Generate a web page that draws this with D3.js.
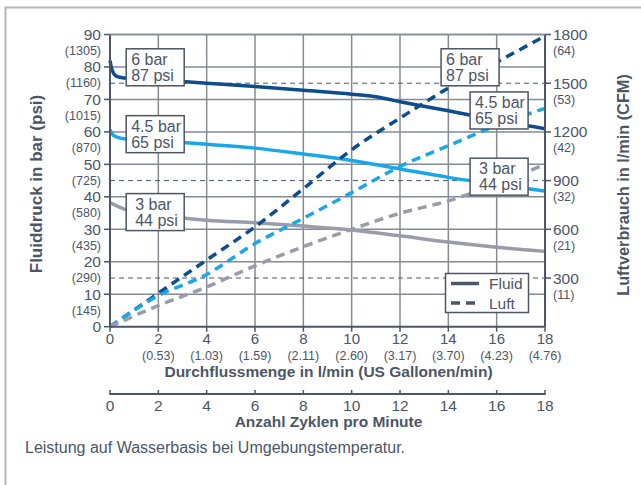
<!DOCTYPE html>
<html><head><meta charset="utf-8">
<script src="https://cdn.jsdelivr.net/npm/d3@7"></script>
<style>
body{margin:0;background:#fff;}
text{font-family:"Liberation Sans",Arial,sans-serif;fill:#4b5666;}
</style></head>
<body><svg id="c" width="641" height="485"></svg>
<script>
// ---- data ----
const flowTicks = [0,2,4,6,8,10,12,14,16,18];
const gallonLabels = ["", "(0.53)","(1.03)","(1.59)","(2.11)","(2.60)","(3.17)","(3.70)","(4.23)","(4.76)"];
const cycleTicks = [0,2,4,6,8,10,12,14,16,18];
const barTicks = [0,10,20,30,40,50,60,70,80,90];
const psiLabels = ["","(145)","(290)","(435)","(580)","(725)","(870)","(1015)","(1160)","(1305)"];
const airTicks = [300,600,900,1200,1500,1800];
const cfmLabels = ["(11)","(21)","(32)","(42)","(53)","(64)"];
const refAirLines = [300,900,1500];

const fluid6X = [0,0.05,0.15,0.3,0.6,2,4,6,8,10,11,12,14,16,18];
const fluid6Y = [82,80,78,77,76.6,76,75,74,72.8,71.6,70.8,69.3,66.5,63.6,61];
const fluid45X = [0,0.1,0.25,0.5,2,4,6,8,10,12,14,16,18];
const fluid45Y = [60.7,59.3,58.5,58,57.3,56.2,55,53.2,51.2,48.6,46,43.8,41.8];
const fluid3X = [0,0.67,2,3,4,6,8,10,12,14,16,18];
const fluid3Y = [38.2,36,34.4,33.5,32.8,32,31,29.8,28,26.1,24.5,23.2];

const luftX = [0,2,4,6,8,10,12,14,16,18];
const luft6 = [0,206,411,615,850,1090,1285,1470,1630,1790];
const luft45 = [0,191,322,512,668,826,987,1115,1240,1345];
const luft3 = [0,130,245,375,493,600,699,775,880,1000];

const seriesNames = ["6 bar\n87 psi","4.5 bar\n65 psi","3 bar\n44 psi"];
const colors = ["#0d4d8c","#1aa7e8","#9a9cab"];
const legendNames = ["Fluid","Luft"];

// ---- layout ----
const svg = d3.select("#c");
const X0=110, X1=545, Y0=326.7, Y1=34.5;
const x = d3.scaleLinear().domain([0,18]).range([X0,X1]);
const y = d3.scaleLinear().domain([0,90]).range([Y0,Y1]);
const yR = d3.scaleLinear().domain([0,1800]).range([Y0,Y1]);
const ink = "#4b5666", grid="#848b95";

// frame
svg.append("path").attr("d","M5.5,485 V7.5 H641").attr("fill","none").attr("stroke","#b2b6be").attr("stroke-width",2);

// grid
const g = svg.append("g");
g.selectAll(".vg").data(flowTicks.slice(1,-1)).join("line")
 .attr("x1",d=>x(d)).attr("x2",d=>x(d)).attr("y1",Y0).attr("y2",Y1)
 .attr("stroke",grid).attr("stroke-width",1.5);
g.selectAll(".hg").data(barTicks.slice(1)).join("line")
 .attr("x1",X0).attr("x2",X1).attr("y1",d=>y(d)).attr("y2",d=>y(d))
 .attr("stroke",grid).attr("stroke-width",1.5);
g.selectAll(".rl").data(refAirLines).join("line")
 .attr("x1",X0).attr("x2",X1+6).attr("y1",d=>yR(d)).attr("y2",d=>yR(d))
 .attr("stroke",ink).attr("stroke-width",1).attr("stroke-dasharray","5,4");

// lines
const line = d3.line().x(d=>x(d[0])).curve(d3.curveMonotoneX);
const fluidSets = [[fluid6X,fluid6Y],[fluid45X,fluid45Y],[fluid3X,fluid3Y]];
const luftSets = [luft6,luft45,luft3];
fluidSets.forEach((s,i)=>{
  const pts = s[0].map((v,j)=>[v,s[1][j]]);
  svg.append("path").attr("d",line.y(d=>y(d[1]))(pts)).attr("fill","none")
   .attr("stroke",colors[i]).attr("stroke-width",3.5);
});
luftSets.forEach((s,i)=>{
  const pts = luftX.map((v,j)=>[v,s[j]]);
  svg.append("path").attr("d",line.y(d=>yR(d[1]))(pts)).attr("fill","none")
   .attr("stroke",colors[i]).attr("stroke-width",3.5).attr("stroke-dasharray","9,6");
});

// axes
const ax = svg.append("g").attr("stroke",ink).attr("stroke-width",2);
ax.append("line").attr("x1",X0).attr("x2",X0).attr("y1",Y0).attr("y2",Y1);
ax.append("line").attr("x1",X1).attr("x2",X1).attr("y1",Y0).attr("y2",Y1);
ax.append("line").attr("x1",X0).attr("x2",X1).attr("y1",Y0).attr("y2",Y0);
svg.append("line").attr("x1",X0).attr("x2",X1).attr("y1",Y1).attr("y2",Y1).attr("stroke",grid).attr("stroke-width",1.5);
barTicks.forEach((v,i)=>{
  svg.append("line").attr("x1",X0-6).attr("x2",X0).attr("y1",y(v)).attr("y2",y(v)).attr("stroke",ink).attr("stroke-width",1.5);
  svg.append("text").attr("x",101).attr("y",y(v)+5.5).attr("text-anchor","end").attr("font-size",15.5).text(v);
  if(psiLabels[i]) svg.append("text").attr("x",101).attr("y",y(v)+20.5).attr("text-anchor","end").attr("font-size",12.5).text(psiLabels[i]);
});
airTicks.forEach((v,i)=>{
  svg.append("line").attr("x1",X1).attr("x2",X1+6).attr("y1",yR(v)).attr("y2",yR(v)).attr("stroke",ink).attr("stroke-width",1.5);
  svg.append("text").attr("x",553).attr("y",yR(v)+5.5).attr("font-size",15.5).text(v);
  svg.append("text").attr("x",553).attr("y",yR(v)+20.5).attr("font-size",12.5).text(cfmLabels[i]);
});
flowTicks.forEach((v,i)=>{
  svg.append("line").attr("x1",x(v)).attr("x2",x(v)).attr("y1",Y0).attr("y2",Y0+5).attr("stroke",ink).attr("stroke-width",1.5);
  svg.append("text").attr("x",x(v)).attr("y",344).attr("text-anchor","middle").attr("font-size",15).text(v);
  if(gallonLabels[i]) svg.append("text").attr("x",x(v)).attr("y",359.5).attr("text-anchor","middle").attr("font-size",12.5).text(gallonLabels[i]);
});
svg.append("text").attr("x",(X0+X1)/2+1).attr("y",377).attr("text-anchor","middle").attr("font-size",15.5).attr("font-weight","bold").text("Durchflussmenge in l/min (US Gallonen/min)");

// second x axis
const Y2 = 394;
svg.append("line").attr("x1",X0).attr("x2",X1).attr("y1",Y2).attr("y2",Y2).attr("stroke",ink).attr("stroke-width",2);
const xc = d3.scaleLinear().domain([0,18]).range([X0,X1]);
cycleTicks.forEach(v=>{
  svg.append("line").attr("x1",xc(v)).attr("x2",xc(v)).attr("y1",Y2-4).attr("y2",Y2+1).attr("stroke",ink).attr("stroke-width",1.5);
  svg.append("text").attr("x",xc(v)).attr("y",411).attr("text-anchor","middle").attr("font-size",15.5).text(v);
});
svg.append("text").attr("x",(X0+X1)/2+1).attr("y",426.5).attr("text-anchor","middle").attr("font-size",15.5).attr("font-weight","bold").text("Anzahl Zyklen pro Minute");

// axis titles
svg.append("text").attr("transform","translate(42,184) rotate(-90)").attr("text-anchor","middle").attr("font-size",17).attr("font-weight","bold").text("Fluiddruck in bar (psi)");
svg.append("text").attr("transform","translate(629,185) rotate(-90)").attr("text-anchor","middle").attr("font-size",16.3).attr("font-weight","bold").text("Luftverbrauch in l/min (CFM)");

// label boxes  [series index, x-left (flow), top (bar)]
const boxes = [[0,0.67,85.6],[1,0.67,65],[2,0.67,41],[0,13.7,85.6],[1,14.9,72.3],[2,14.9,51.9]];
boxes.forEach(b=>{
  const bx=x(b[1]), by=y(b[2]), w=58, h=37;
  svg.append("rect").attr("x",bx).attr("y",by).attr("width",w).attr("height",h).attr("fill","#fff").attr("stroke",ink).attr("stroke-width",1.5);
  const lines = seriesNames[b[0]].split("\n");
  const t = svg.append("text").attr("font-size",16);
  const left = b[0]===2 ? bx+9 : bx+5;
  t.append("tspan").attr("x",left).attr("y",by+16).text(lines[0]);
  t.append("tspan").attr("x",left).attr("y",by+32).text(lines[1]);
});

// legend
const lg = svg.append("g");
lg.append("rect").attr("x",445.5).attr("y",273.5).attr("width",83).attr("height",39).attr("fill","#fff").attr("stroke",ink).attr("stroke-width",1.5);
legendNames.forEach((n,i)=>{
  const yy = 283.5 + i*19.5;
  lg.append("line").attr("x1",451).attr("x2",479).attr("y1",yy).attr("y2",yy).attr("stroke",ink).attr("stroke-width",3.5)
    .attr("stroke-dasharray", i===1 ? "9,6" : null);
  lg.append("text").attr("x",489).attr("y",yy+5.5).attr("font-size",15.5).text(n);
});

// caption
svg.append("text").attr("x",25).attr("y",453).attr("font-size",16).text("Leistung auf Wasserbasis bei Umgebungstemperatur.");
</script></body></html>
